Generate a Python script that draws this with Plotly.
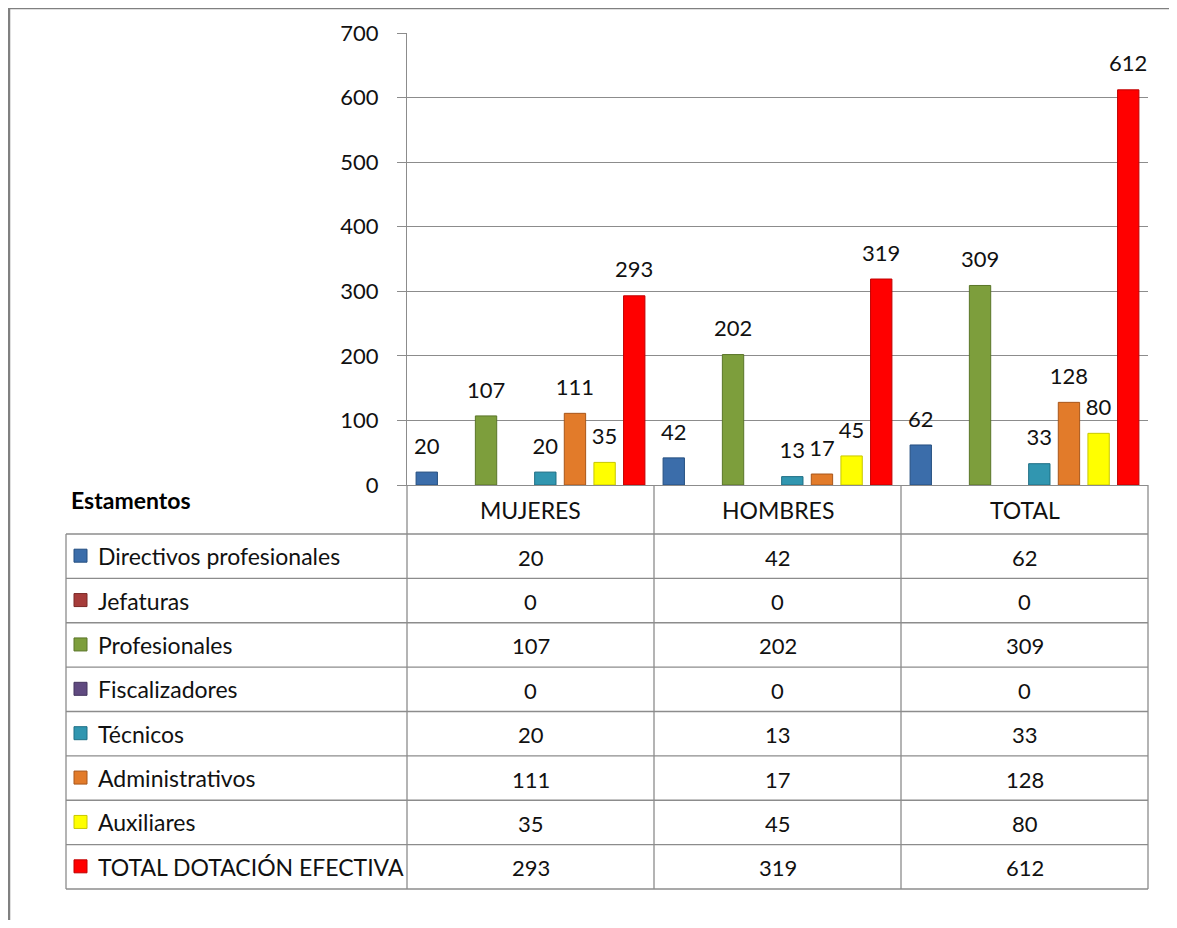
import plotly.graph_objects as go

# ---- data ----
categories = ["MUJERES", "HOMBRES", "TOTAL"]
series_names = [
    "Directivos profesionales",
    "Jefaturas",
    "Profesionales",
    "Fiscalizadores",
    "Técnicos",
    "Administrativos",
    "Auxiliares",
    "TOTAL DOTACIÓN EFECTIVA",
]
directivos = [20, 42, 62]
jefaturas = [0, 0, 0]
profesionales = [107, 202, 309]
fiscalizadores = [0, 0, 0]
tecnicos = [20, 13, 33]
administrativos = [111, 17, 128]
auxiliares = [35, 45, 80]
total_dotacion = [293, 319, 612]
y_ticks = [0, 100, 200, 300, 400, 500, 600, 700]
table_title = "Estamentos"

series_values = [directivos, jefaturas, profesionales, fiscalizadores,
                 tecnicos, administrativos, auxiliares, total_dotacion]

# ---- styles ----
fill_colors = ["#3B6DAA", "#A63C3A", "#7D9E3C", "#604A80",
               "#3196B0", "#E27B2A", "#FFFF00", "#FF0000"]
edge_colors = ["#254F80", "#7A2826", "#5A7528", "#44345E",
               "#1F6F85", "#A8561A", "#C8C800", "#C00000"]
FONT = "Lato"
TXT = "#111111"
GRID = "#8C8C8C"
TEXT_SIZE = 23
NUM_SIZE = 22

# page offset (browser body margin)
OFF = 8
W, H = 1169, 912
ML, MR, MT, MB = 58, 29, 25, 31
PW, PH = W - ML - MR, H - MT - MB


def px_x(px):
    return (px - OFF - ML) / PW


def px_y(py):
    return (H - MB - (py - OFF)) / PH


plot_left, plot_right = 407, 1148
plot_top, plot_bottom = 33, 485
header_bottom = 534
table_left = 66
table_bottom = 889
row_h = (table_bottom - header_bottom) / len(series_names)

fig = go.Figure()

for i, (name, vals, fc, ec) in enumerate(zip(series_names, series_values, fill_colors, edge_colors)):
    fig.add_trace(go.Bar(
        x=categories, y=vals, name=name,
        marker=dict(color=fc, line=dict(color=ec, width=[1 if v else 0 for v in vals])),
        offsetgroup="b%d" % i, alignmentgroup="bars",
        showlegend=False, hoverinfo="skip",
    ))

for i, (name, vals) in enumerate(zip(series_names, series_values)):
    fig.add_trace(go.Scatter(
        x=categories, y=vals, mode="markers+text",
        text=[str(v) if v != 0 else "" for v in vals],
        textposition="top center",
        textfont=dict(family=FONT, size=NUM_SIZE, color=TXT),
        marker=dict(size=19, color="rgba(0,0,0,0)"),
        offsetgroup="s%d" % i, alignmentgroup="labels",
        showlegend=False, hoverinfo="skip", cliponaxis=False,
    ))

shapes = []
line = dict(color=GRID, width=1.3)

# category column borders
for k in range(len(categories) + 1):
    xk = px_x(plot_left + k * (plot_right - plot_left) / len(categories))
    shapes.append(dict(type="line", xref="paper", yref="paper",
                       x0=xk, x1=xk, y0=px_y(plot_bottom), y1=px_y(table_bottom), line=line))
# left border of table
shapes.append(dict(type="line", xref="paper", yref="paper",
                   x0=px_x(table_left), x1=px_x(table_left),
                   y0=px_y(header_bottom), y1=px_y(table_bottom), line=line))
# horizontal row lines
for r in range(len(series_names) + 1):
    yr = px_y(header_bottom + r * row_h)
    shapes.append(dict(type="line", xref="paper", yref="paper",
                       x0=px_x(table_left), x1=px_x(plot_right), y0=yr, y1=yr, line=line))

# outer frame
shapes.append(dict(type="line", xref="paper", yref="paper",
                   x0=px_x(OFF + 1), x1=px_x(OFF + 1), y0=px_y(OFF), y1=px_y(OFF + H),
                   line=dict(color="#808080", width=2.5)))
shapes.append(dict(type="line", xref="paper", yref="paper",
                   x0=px_x(OFF), x1=px_x(OFF + W), y0=px_y(OFF + 0.6), y1=px_y(OFF + 0.6),
                   line=dict(color="#808080", width=1.2)))

annotations = []
annotations.append(dict(text="<b>" + table_title + "</b>", xref="paper", yref="paper",
                        x=px_x(69), y=px_y(500), xanchor="left", yanchor="middle",
                        showarrow=False, font=dict(family=FONT, size=23, color="#000000")))
for c in categories:
    annotations.append(dict(text=c, xref="x", yref="paper", x=c,
                            y=px_y((plot_bottom + header_bottom) / 2 + 1),
                            xanchor="center", yanchor="middle", showarrow=False,
                            font=dict(family=FONT, size=TEXT_SIZE, color=TXT)))

for r, (name, vals, fc, ec) in enumerate(zip(series_names, series_values, fill_colors, edge_colors)):
    yc = header_bottom + (r + 0.5) * row_h
    shapes.append(dict(type="rect", xref="paper", yref="paper",
                       x0=px_x(74), x1=px_x(87), y0=px_y(yc - 7), y1=px_y(yc + 6),
                       fillcolor=fc, line=dict(color=ec, width=1)))
    annotations.append(dict(text=name, xref="paper", yref="paper",
                            x=px_x(96), y=px_y(yc), xanchor="left", yanchor="middle",
                            showarrow=False, font=dict(family=FONT, size=TEXT_SIZE, color=TXT)))
    for c, v in zip(categories, vals):
        annotations.append(dict(text=str(v), xref="x", yref="paper", x=c, y=px_y(yc + 1),
                                xanchor="center", yanchor="middle", showarrow=False,
                                font=dict(family=FONT, size=NUM_SIZE, color=TXT)))

fig.update_layout(
    width=W, height=H,
    margin=dict(l=ML, r=MR, t=MT, b=MB, pad=0),
    paper_bgcolor="white", plot_bgcolor="white",
    barmode="group", bargap=0.04, bargroupgap=0.28,
    scattermode="group", scattergap=0.04,
    shapes=shapes, annotations=annotations,
    font=dict(family=FONT),
    xaxis=dict(domain=[px_x(plot_left), 1], showticklabels=False, ticks="",
               showline=True, linecolor=GRID, linewidth=1.3, showgrid=False,
               categoryorder="array", categoryarray=categories),
    yaxis=dict(domain=[px_y(plot_bottom), 1], range=[0, 700], tickvals=y_ticks,
               showgrid=True, gridcolor=GRID, gridwidth=1, zeroline=False,
               showline=True, linecolor=GRID, linewidth=1.3,
               ticks="outside", ticklen=9, tickcolor=GRID, ticklabelstandoff=14,
               tickfont=dict(family=FONT, size=NUM_SIZE, color=TXT)),
)

fig.write_html("out.html")
